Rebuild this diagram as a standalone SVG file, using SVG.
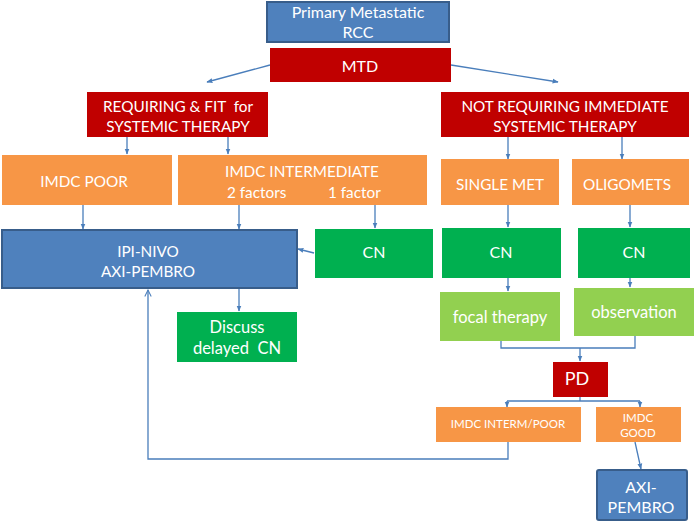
<svg xmlns="http://www.w3.org/2000/svg" width="700" height="523" viewBox="0 0 700 523">
<defs>
<marker id="ah" viewBox="0 0 10 10" refX="9" refY="5" markerWidth="6" markerHeight="6" orient="auto" markerUnits="userSpaceOnUse">
<path d="M0,1 L10,5 L0,9 Z" fill="#4a7ebb"/>
</marker>
<marker id="open" viewBox="0 0 10 10" refX="9" refY="5" markerWidth="8" markerHeight="8" orient="auto" markerUnits="userSpaceOnUse">
<path d="M1,1 L9,5 L1,9" fill="none" stroke="#4a7ebb" stroke-width="1.3"/>
</marker>
<style>
.t{font-family:Lato,"Liberation Sans",sans-serif;fill:#fff;text-anchor:middle;font-size:15.3px}
.s{font-size:11.5px}
.m{font-size:16px}
.l{font-size:16.5px}
.blue{fill:#4f81bd;stroke:#385d8a;stroke-width:2}
.red{fill:#c00000}
.or{fill:#f79646}
.gr{fill:#00b050}
.lg{fill:#92d050}
.c{fill:none;stroke:#4a7ebb;stroke-width:1.3}
.a{marker-end:url(#ah)}
</style>
</defs>
<rect width="700" height="523" fill="#fff"/>

<g id="connectors">
<path class="c a" d="M270,65 L207,82"/>
<path class="c a" d="M451,65 L558,82"/>
<path class="c a" d="M127,137 L127,154"/>
<path class="c a" d="M228,137 L228,154"/>
<path class="c a" d="M508,137 L508,159"/>
<path class="c a" d="M622,137 L622,159"/>
<path class="c a" d="M83,205 L83,229"/>
<path class="c a" d="M239,205 L239,229"/>
<path class="c a" d="M375,205 L375,228"/>
<path class="c a" d="M508,205 L508,227"/>
<path class="c a" d="M630,205 L630,227"/>
<path class="c a" d="M314,253 L298,249"/>
<path class="c a" d="M239,289 L239,311"/>
<path class="c a" d="M508,278 L508,291"/>
<path class="c a" d="M630,278 L630,287"/>
<path class="c" d="M501,341 L501,348 L635,348 L635,336"/>
<path class="c a" d="M580,348 L580,361"/>
<path class="c" d="M580,397 L580,401"/>
<path class="c" d="M507,401 L640,401"/>
<path class="c a" d="M507,401 L507,407"/>
<path class="c a" d="M640,401 L640,407"/>
<path class="c" d="M508,442 L508,459 L148,459 L148,290" marker-end="url(#open)"/>
<path class="c a" d="M635,442 L641,469"/>
</g>

<g id="primary"><rect class="blue" x="267" y="2" width="182" height="40"/>
<text class="t m" x="358" y="18">Primary Metastatic</text><text class="t m" x="358" y="38">RCC</text></g>

<g id="mtd"><rect class="red" x="270" y="48" width="181" height="34"/>
<text class="t m" x="360" y="72">MTD</text></g>

<g id="requiring"><rect class="red" x="87" y="92" width="181" height="45"/>
<text class="t" x="178" y="112" xml:space="preserve">REQUIRING &amp; FIT  for</text><text class="t" x="178" y="132">SYSTEMIC THERAPY</text></g>

<g id="notreq"><rect class="red" x="441" y="92" width="248" height="45"/>
<text class="t" x="565" y="112">NOT REQUIRING IMMEDIATE</text><text class="t" x="565" y="132">SYSTEMIC THERAPY</text></g>

<g id="poor"><rect class="or" x="2" y="155" width="170" height="50"/>
<text class="t" x="84" y="187">IMDC POOR</text></g>

<g id="intermediate"><rect class="or" x="178" y="155" width="249" height="50"/>
<text class="t" x="302" y="177">IMDC INTERMEDIATE</text>
<text class="t" x="227" y="198" style="text-anchor:start">2 factors</text>
<text class="t" x="328" y="198" style="text-anchor:start">1 factor</text></g>

<g id="singlemet"><rect class="or" x="441" y="159" width="118" height="46"/>
<text class="t" x="500" y="190">SINGLE MET</text></g>

<g id="oligomets"><rect class="or" x="572" y="159" width="117" height="46"/>
<text class="t" x="627" y="190">OLIGOMETS</text></g>

<g id="ipinivo"><rect class="blue" x="2" y="230" width="295" height="58"/>
<text class="t" x="148" y="257">IPI-NIVO</text><text class="t" x="148" y="277">AXI-PEMBRO</text></g>

<g id="cn1"><rect class="gr" x="315" y="229" width="118" height="49"/>
<text class="t m" x="374" y="258">CN</text></g>

<g id="cn2"><rect class="gr" x="442" y="228" width="119" height="50"/>
<text class="t m" x="501" y="258">CN</text></g>

<g id="cn3"><rect class="gr" x="578" y="228" width="112" height="50"/>
<text class="t m" x="634" y="258">CN</text></g>

<g id="discuss"><rect class="gr" x="177" y="312" width="120" height="50"/>
<text class="t l" x="237" y="333">Discuss</text><text class="t l" x="237" y="354" xml:space="preserve">delayed  CN</text></g>

<g id="focal"><rect class="lg" x="440" y="292" width="120" height="49"/>
<text class="t l" x="500" y="323">focal therapy</text></g>

<g id="observation"><rect class="lg" x="574" y="288" width="120" height="48"/>
<text class="t l" x="634" y="318">observation</text></g>

<g id="pd"><rect class="red" x="553" y="362" width="55" height="35"/>
<text class="t" x="577" y="385" style="font-size:18px">PD</text></g>

<g id="intermpoor"><rect class="or" x="436" y="407" width="145" height="35"/>
<text class="t s" x="508" y="428">IMDC INTERM/POOR</text></g>

<g id="good"><rect class="or" x="596" y="407" width="85" height="35"/>
<text class="t s" x="638" y="422">IMDC</text><text class="t s" x="638" y="437">GOOD</text></g>

<g id="axipembro"><rect class="blue" x="597" y="470" width="90" height="50" rx="2"/>
<text class="t m" x="641" y="493">AXI-</text><text class="t m" x="641" y="513">PEMBRO</text></g>
</svg>
